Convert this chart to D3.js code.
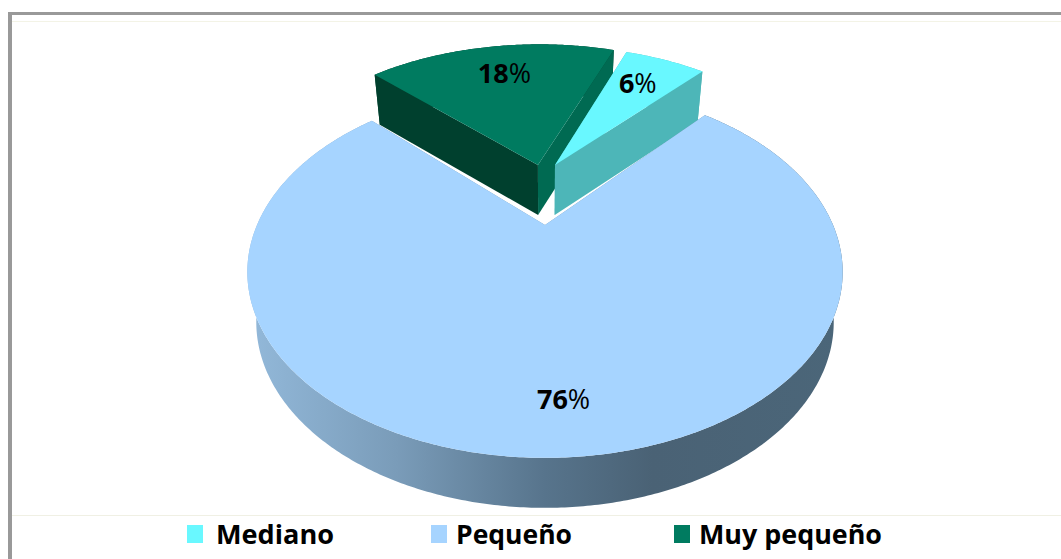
<!DOCTYPE html>
<html>
<head>
<meta charset="utf-8">
<script src="https://cdn.jsdelivr.net/npm/d3@7"></script>
<style>
  html, body { margin: 0; padding: 0; background: #fff; overflow: hidden; }
  text { font-family: "Open Sans", sans-serif; fill: #000; }
</style>
</head>
<body>
<script>
const categories = ["Mediano", "Pequeño", "Muy pequeño"];
const values = [6, 76, 18];
const labels = ["6%", "76%", "18%"];

const topColors = ["#69F8FF", "#A6D4FF", "#007B60"];
const frontWallColors = ["#4DB6B8", "#6F93AE", "#00402E"];
const backWallColors = ["#4DB6B8", "#6F93AE", "#006A52"];
// how far each slice is pulled from the big one, in disc units
const offsets = [[0.038, -0.378], [0, 0], [-0.027, -0.378]];
const radii = [1.008, 1, 1.03];
const labelRadii = [0.75, 0.8, 0.76];
const labelShiftX = [-3, 9, 3];
const legendX = [187, 431, 674];
const legendWidths = [118, 116, 183];
const drawOrder = [2, 0, 1];

const width = 1061, height = 559;
const cx = 545, cy = 225;
const persp = 0.2527; // near side of the disc looks bigger
const depth = 50, baseShrink = 0.97;
const startAngle = (19.7 * Math.PI) / 180;

const xDisc = d3.scaleLinear().domain([0, 1]).range([0, 288]);
const yDisc = d3.scaleLinear().domain([0, 1]).range([0, 174]);

const project = (u, v) => {
  const d = 1 - persp * v;
  return [cx + xDisc(u) / d, cy + yDisc(v) / d];
};
const toBase = (p) => [cx + (p[0] - cx) * baseShrink, p[1] + depth];

const svg = d3.select("body").append("svg")
  .attr("width", width)
  .attr("height", height)
  .style("display", "block");

const grad = svg.append("defs").append("linearGradient")
  .attr("id", "rimGrad")
  .attr("gradientUnits", "userSpaceOnUse")
  .attr("x1", 247).attr("x2", 843).attr("y1", 0).attr("y2", 0);
[[0, "#93B9DA"], [0.25, "#7A9CB9"], [0.5, "#57748C"], [0.68, "#4A6275"], [1, "#4B6679"]]
  .forEach((s) => grad.append("stop").attr("offset", s[0]).attr("stop-color", s[1]));

// frame
svg.append("rect").attr("x", 8).attr("y", 12).attr("width", width).attr("height", 3).attr("fill", "#999");
svg.append("rect").attr("x", 8).attr("y", 12).attr("width", 4).attr("height", height).attr("fill", "#999");
svg.append("rect").attr("x", 12).attr("y", 21).attr("width", width).attr("height", 1).attr("fill", "#F3F3E6");
svg.append("rect").attr("x", 12).attr("y", 515).attr("width", width).attr("height", 1).attr("fill", "#F0F0E4");

const arcs = d3.pie().sort(null).startAngle(startAngle).endAngle(startAngle + 2 * Math.PI)(values);
const line = d3.line();

const rimPoints = (i) => {
  const a = arcs[i];
  const steps = Math.ceil((a.endAngle - a.startAngle) / 0.01);
  return d3.range(steps + 1).map((s) => {
    const t = a.startAngle + ((a.endAngle - a.startAngle) * s) / steps;
    return project(
      offsets[i][0] + radii[i] * Math.sin(t),
      offsets[i][1] - radii[i] * Math.cos(t)
    );
  });
};

const pie = svg.append("g");

drawOrder.forEach((i) => {
  const rim = rimPoints(i);
  const apex = project(offsets[i][0], offsets[i][1]);
  const g = pie.append("g");
  const first = rim[0], last = rim[rim.length - 1];
  // which cut face looks toward us: the one running down to the left or right
  const back = i === 2 ? last : first;
  const front = i === 2 ? first : last;

  g.append("path")
    .attr("d", line(rim.concat(rim.map(toBase).reverse())) + "Z")
    .attr("fill", i === 1 ? "url(#rimGrad)" : frontWallColors[i]);
  g.append("path")
    .attr("d", line([apex, back, toBase(back), toBase(apex)]) + "Z")
    .attr("fill", backWallColors[i]);
  g.append("path")
    .attr("d", line([apex, front, toBase(front), toBase(apex)]) + "Z")
    .attr("fill", frontWallColors[i]);
  // top face
  g.append("path")
    .attr("d", line([apex].concat(rim)) + "Z")
    .attr("fill", topColors[i]);
});

// percent labels
arcs.forEach((a, i) => {
  const mid = (a.startAngle + a.endAngle) / 2;
  const p = project(
    offsets[i][0] + labelRadii[i] * Math.sin(mid),
    offsets[i][1] - labelRadii[i] * Math.cos(mid)
  );
  const t = svg.append("text")
    .attr("x", p[0] + labelShiftX[i]).attr("y", p[1])
    .attr("text-anchor", "middle")
    .attr("dy", "0.36em")
    .attr("font-size", 27);
  t.append("tspan").attr("font-weight", 700).text(labels[i].replace("%", ""));
  t.append("tspan").attr("font-weight", 400).text("%");
});

// legend
categories.forEach((c, i) => {
  svg.append("rect")
    .attr("x", legendX[i]).attr("y", 525)
    .attr("width", 16).attr("height", 18)
    .attr("fill", topColors[i]);
  svg.append("text")
    .attr("x", legendX[i] + (i === 0 ? 29 : 25)).attr("y", 544)
    .attr("font-size", 27)
    .attr("font-weight", 700)
    .attr("textLength", legendWidths[i])
    .attr("lengthAdjust", "spacingAndGlyphs")
    .text(c);
});
</script>
</body>
</html>
